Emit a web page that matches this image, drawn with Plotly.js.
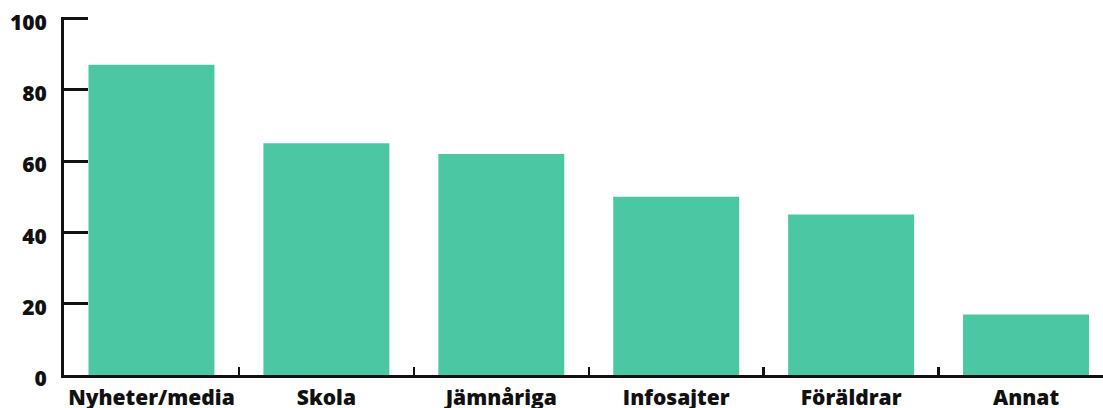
<!DOCTYPE html>
<html><head><meta charset="utf-8">
<script src="https://cdn.plot.ly/plotly-3.0.1.min.js"></script>
<style>html,body{margin:0;padding:0;background:#fff}#chart{width:1103px;height:408px}</style>
</head><body><div id="chart"></div>
<script>
var categories = ["Nyheter/media","Skola","Jämnåriga","Infosajter","Föräldrar","Annat"];
var values = [87, 65, 62, 50, 45, 17];
var yTicks = [0, 20, 40, 60, 80, 100];

var font = {family: "Open Sans, Noto Sans, sans-serif", size: 21, color: "#111111", weight: 800};
Plotly.newPlot("chart", [{
  type: "bar", x: categories, y: values,
  marker: {color: "#4CC7A4"}, hoverinfo: "none"
}], {
  width: 1103, height: 408,
  margin: {l: 64, r: 0, t: 17, b: 33},
  bargap: 0.28,
  paper_bgcolor: "#fff", plot_bgcolor: "#fff",
  showlegend: false,
  xaxis: {
    range: [-0.5, 5.44], showgrid: false, zeroline: false,
    showline: true, linecolor: "#111", linewidth: 2.5,
    ticks: "inside", tickson: "boundaries", ticklen: 8, tickwidth: 2.5, tickcolor: "#111",
    tickangle: 0, ticklabelstandoff: 2,
    tickfont: font, fixedrange: true
  },
  yaxis: {
    range: [0, 100.4], tickvals: yTicks, showgrid: false, zeroline: false,
    showline: true, linecolor: "#111", linewidth: 3,
    ticks: "inside", ticklen: 24, tickwidth: 3, tickcolor: "#111",
    ticklabelstandoff: 10, ticklabelshift: 4,
    tickfont: font, fixedrange: true
  }
}, {displayModeBar: false, staticPlot: true});
</script></body></html>
